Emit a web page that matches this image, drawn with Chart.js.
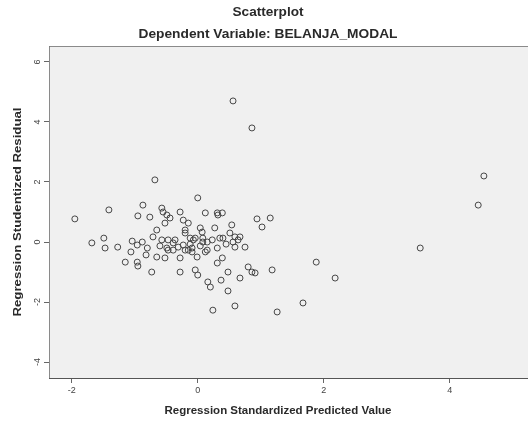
<!DOCTYPE html>
<html>
<head>
<meta charset="utf-8">
<title>Scatterplot</title>
<script src="https://cdn.jsdelivr.net/npm/chart.js@4.4.1/dist/chart.umd.min.js"></script>
<style>
    html, body { margin: 0; padding: 0; background: #ffffff; }
    #wrap { width: 528px; height: 421px; }
</style>
</head>
<body>
<div id="wrap"><canvas id="chart" width="528" height="421"></canvas></div>
<script>

// Data
const predictedX = [
    -1.95, -1.68, -1.49, -1.47, -1.41, -1.27, -1.15, -1.06, -1.04, -0.96,
    -0.95, -0.96, -0.95, -0.87, -0.76, -0.88, -0.82, -0.80, -0.73, -0.71,
    -0.68, -0.65, -0.57, -0.57, -0.55, -0.52, -0.52, -0.49, -0.47, -0.47,
    -0.49, -0.44, -0.39, -0.39, -0.36, -0.31, -0.28, -0.28, -0.28, -0.23,
    -0.23, -0.20, -0.20, -0.20, -0.15, -0.15, -0.12, -0.09, -0.09, -0.07,
    -0.04, -0.04, -0.01, 0.00, 0.00, 0.04, 0.07, 0.08, 0.08, 0.12,
    0.12, 0.15, 0.15, 0.16, 0.20, 0.24, 0.27, 0.31, 0.31, 0.31,
    0.32, 0.35, 0.37, 0.39, 0.39, 0.40, 0.48, 0.48, 0.51, 0.54,
    0.56, 0.56, 0.59, 0.59, 0.59, 0.64, 0.67, 0.67, 0.75, 0.80,
    0.86, 0.86, 0.91, 0.94, 1.02, 1.15, 1.18, 1.26, 1.67, 1.88,
    2.18, 3.53, 4.45, 4.54, -0.60, -0.12, 0.04, 0.23, 0.45, -0.65
];

const residualY = [
    0.77, -0.03, 0.13, -0.20, 1.07, -0.17, -0.67, -0.33, 0.03, -0.10,
    0.87, -0.67, -0.80, 1.23, 0.83, 0.00, -0.43, -0.20, -1.00, 0.17,
    2.07, -0.50, 0.07, 1.13, 1.00, -0.53, 0.63, 0.90, 0.07, -0.27,
    -0.20, 0.80, -0.03, -0.27, 0.07, -0.17, 1.00, -0.53, -1.00, 0.73,
    -0.10, 0.40, 0.30, -0.27, 0.63, -0.27, 0.13, -0.20, -0.33, 0.07,
    0.13, -0.93, -0.50, -1.10, 1.47, 0.47, 0.33, 0.13, 0.00, 0.97,
    -0.33, 0.00, -0.27, -1.33, -1.50, -2.27, 0.47, 0.97, -0.20, -0.70,
    0.90, 0.13, -1.27, 0.97, -0.53, 0.13, -1.00, -1.63, 0.30, 0.57,
    0.00, 4.70, 0.17, -0.17, -2.13, 0.07, 0.17, -1.20, -0.17, -0.83,
    3.80, -1.00, -1.03, 0.77, 0.50, 0.80, -0.93, -2.33, -2.03, -0.67,
    -1.20, -0.20, 1.23, 2.20, -0.13, -0.07, -0.13, 0.07, -0.07, 0.40
];

const xTicks = [-2, 0, 2, 4];
const yTicks = [-4, -2, 0, 2, 4, 6];

const chartTitle = "Scatterplot";
const chartSubtitle = "Dependent Variable: BELANJA_MODAL";
const xTitle = "Regression Standardized Predicted Value";
const yTitle = "Regression Studentized Residual";

const points = predictedX.map((x, i) => ({ x: x, y: residualY[i] }));


// draw text squeezed to a given width (reference is a scaled bitmap)
function fitText(ctx, text, x, y, width, rot) {
    ctx.save();
    ctx.translate(x, y);
    if (rot) ctx.rotate(rot);
    const w = ctx.measureText(text).width;
    ctx.scale(width / w, 1);
    ctx.fillText(text, 0, 0);
    ctx.restore();
}


// background, frame and titles
const spssFrame = {
    id: "spssFrame",
    beforeDraw(chart) {
        const { ctx, chartArea: a } = chart;
        ctx.save();
        ctx.fillStyle = "#ffffff";
        ctx.fillRect(0, 0, chart.width, chart.height);
        ctx.fillStyle = "#f0f0f0";
        ctx.fillRect(a.left, a.top, a.right - a.left, a.bottom - a.top);
        ctx.restore();
    },
    afterDraw(chart) {
        const { ctx, chartArea: a } = chart;
        ctx.save();

        ctx.strokeStyle = "#8a8a8a";
        ctx.lineWidth = 1;
        ctx.beginPath();
        ctx.moveTo(a.left + 0.5, a.bottom);
        ctx.lineTo(a.left + 0.5, a.top + 0.5);
        ctx.lineTo(a.right, a.top + 0.5);
        ctx.stroke();

        ctx.fillStyle = "#2a2a2a";
        ctx.textAlign = "center";
        ctx.textBaseline = "middle";

        ctx.font = "bold 12px 'Liberation Sans', Arial, sans-serif";
        fitText(ctx, chartTitle, 268, 13, 71, 0);
        fitText(ctx, chartSubtitle, 268, 35, 259, 0);

        ctx.font = "bold 11px 'Liberation Sans', Arial, sans-serif";
        fitText(ctx, xTitle, 278, 411, 227, 0);
        fitText(ctx, yTitle, 18, 212, 209, -Math.PI / 2);

        ctx.restore();
    }
};


const ctx = document.getElementById("chart");

new Chart(ctx, {

    type: "scatter",

    data: {
        datasets: [{
            data: points,
            pointStyle: "circle",
            pointRadius: 3,
            pointBorderWidth: 1,
            borderColor: "#474747",
            backgroundColor: "rgba(0,0,0,0)"
        }]
    },

    options: {
        responsive: false,
        animation: false,
        layout: {
            autoPadding: false,
            padding: { top: 46, left: 0, right: 0, bottom: 0 }
        },
        plugins: {
            legend: { display: false },
            tooltip: { enabled: false }
        },
        scales: {
            x: {
                type: "linear",
                min: -2.36,
                max: 5.24,
                afterBuildTicks: (scale) => {
                    scale.ticks = xTicks.map(v => ({ value: v }));
                },
                afterFit: (scale) => { scale.height = 43; },
                grid: {
                    drawOnChartArea: false,
                    drawTicks: true,
                    tickLength: 5,
                    color: "#666666"
                },
                border: { display: true, color: "#555555", width: 1 },
                ticks: {
                    padding: 2,
                    color: "#444444",
                    font: { size: 9, family: "'Liberation Sans', Arial, sans-serif" }
                }
            },
            y: {
                type: "linear",
                min: -4.53,
                max: 6.53,
                afterBuildTicks: (scale) => {
                    scale.ticks = yTicks.map(v => ({ value: v }));
                },
                afterFit: (scale) => { scale.width = 49; },
                grid: {
                    drawOnChartArea: false,
                    drawTicks: true,
                    tickLength: 5,
                    color: "#666666"
                },
                border: { display: true, color: "#555555", width: 1 },
                ticks: {
                    padding: 2,
                    minRotation: 90,
                    maxRotation: 90,
                    crossAlign: "center",
                    color: "#444444",
                    font: { size: 9, family: "'Liberation Sans', Arial, sans-serif" }
                }
            }
        }
    },

    plugins: [spssFrame]

});
</script>
</body>
</html>
